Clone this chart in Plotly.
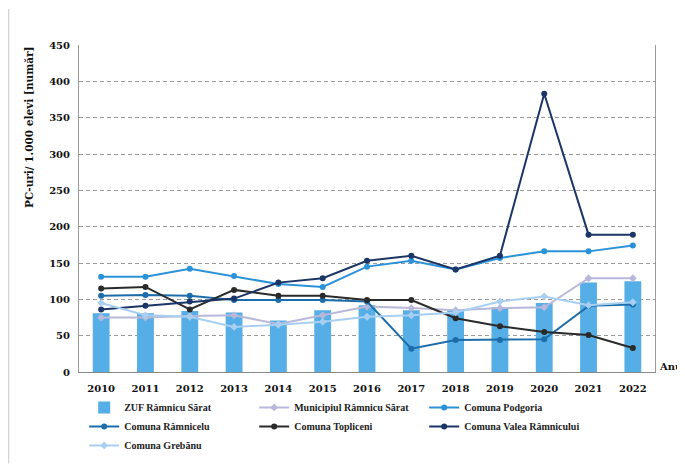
import plotly.graph_objects as go

years = ["2010", "2011", "2012", "2013", "2014", "2015", "2016",
         "2017", "2018", "2019", "2020", "2021", "2022"]
zuf = [81, 81, 84, 82, 71, 85, 92, 85, 85, 89, 95, 123, 125]
municipiul = [75, 75, 77, 78, 66, 78, 90, 88, 85, 88, 89, 129, 129]
podgoria = [131, 131, 142, 132, 121, 117, 145, 153, 141, 157, 166, 166, 174]
ramnicelu = [105, 106, 105, 99, 99, 99, 97, 32, 44, 44, 45, 91, 93]
topliceni = [115, 117, 86, 113, 105, 105, 99, 99, 74, 63, 55, 51, 33]
valea = [86, 91, 97, 101, 123, 129, 153, 160, 141, 160, 383, 189, 189]
grebanu = [95, 78, 76, 62, 65, 69, 76, 78, 82, 97, 104, 92, 96]
y_ticks = [0, 50, 100, 150, 200, 250, 300, 350, 400, 450]

SERIF = "DejaVu Serif"
LFONT = "Liberation Serif"

fig = go.Figure()
fig.add_trace(go.Bar(x=years, y=zuf, name="ZUF Râmnicu Sărat",
                     marker=dict(color="#56aee6", line=dict(width=0))))

def line(name, vals, color, symbol="circle", size=6, width=2):
    fig.add_trace(go.Scatter(x=years, y=vals, name=name, mode="lines+markers",
                             line=dict(color=color, width=width),
                             marker=dict(color=color, size=size, symbol=symbol)))

line("Municipiul Râmnicu Sărat", municipiul, "#bab8da", "diamond", 6, 2)
line("Comuna Podgoria", podgoria, "#2b92da")
line("Comuna Râmnicelu", ramnicelu, "#1d6dab")
line("Comuna Topliceni", topliceni, "#2a2a2a")
line("Comuna Valea Râmnicului", valea, "#1b3566")
line("Comuna Grebănu", grebanu, "#a8cff2", "diamond", 6, 2)

fig.update_layout(
    width=677, height=458,
    margin=dict(l=71, r=30, t=37, b=94, autoexpand=False),
    paper_bgcolor="white", plot_bgcolor="white",
    bargap=0.62,
    showlegend=True,
    legend=dict(orientation="h", x=0.009, y=-0.064, xanchor="left", yanchor="top",
                font=dict(family=LFONT, size=10, color="#222", weight="bold"),
                entrywidth=125, entrywidthmode="pixels",
                itemwidth=30, tracegroupgap=0, bgcolor="rgba(0,0,0,0)"),
    xaxis=dict(type="category", range=[-0.5, 12.5], autorange=False,
               showline=True, linecolor="#8a8a8a", linewidth=1,
               showgrid=False, ticks="", automargin=False,
               tickfont=dict(family=SERIF, size=10, color="#111", weight="bold"),
               ticklabelstandoff=7),
    yaxis=dict(range=[0, 450], tickvals=y_ticks, showline=True, mirror=True,
               linecolor="#9a9a9a", linewidth=1, showgrid=True, gridcolor="#9a9a9a",
               griddash="4px,3px", gridwidth=1, zeroline=False, ticks="",
               automargin=False,
               tickfont=dict(family=SERIF, size=10, color="#111", weight="bold"),
               ticklabelstandoff=6),
)

fig.add_annotation(text="PC-uri/ 1.000 elevi [număr]", textangle=-90,
                   xref="paper", yref="paper", x=-0.087, y=0.749,
                   showarrow=False,
                   font=dict(family=SERIF, size=10.5, color="#111", weight="bold"),
                   xanchor="center", yanchor="middle")
fig.add_annotation(text="Anu", xref="paper", yref="paper", x=1.05, y=0.018,
                   showarrow=False, xanchor="right", yanchor="middle",
                   font=dict(family=SERIF, size=10, color="#111", weight="bold"))

# outer frame line (left)
fig.add_shape(type="line", xref="paper", yref="paper", x0=-0.122, x1=-0.122, y0=-0.28, y1=1.11,
              line=dict(color="#c8c8c8", width=1))

fig.write_html("out.html")
